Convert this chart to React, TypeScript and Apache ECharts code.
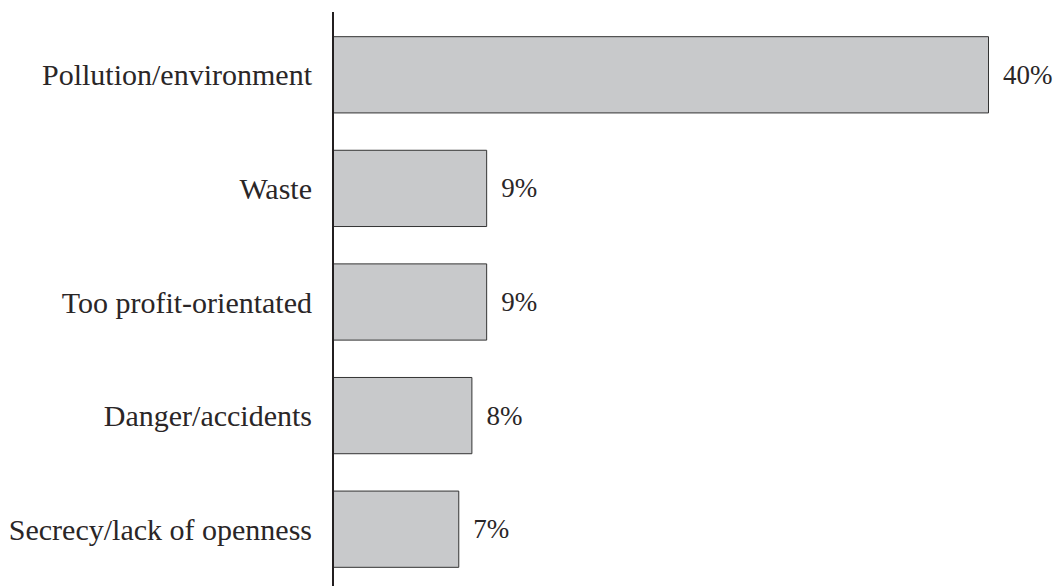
import React, { useEffect, useRef } from "react";
import * as echarts from "echarts";

const categories = [
  "Pollution/environment",
  "Waste",
  "Too profit-orientated",
  "Danger/accidents",
  "Secrecy/lack of openness",
];
const values = [40, 9.4, 9.4, 8.5, 7.7];
const valueLabels = ["40%", "9%", "9%", "8%", "7%"];

export default function App() {
  const ref = useRef<HTMLDivElement>(null);
  useEffect(() => {
    if (!ref.current) return;
    const chart = echarts.init(ref.current, undefined, { renderer: "svg" });
    chart.setOption({
      animation: false,
      backgroundColor: "#ffffff",
      grid: { left: 333, right: 68, top: 18, bottom: 0, containLabel: false },
      xAxis: {
        type: "value",
        min: 0,
        max: 40,
        show: false,
      },
      yAxis: {
        type: "category",
        inverse: true,
        data: categories,
        axisLine: { show: false },
        axisTick: { show: false },
        splitLine: { show: false },
        axisLabel: {
          margin: 21,
          fontFamily: "Liberation Serif",
          fontSize: 30,
          color: "#2a2627",
        },
      },
      series: [
        {
          type: "bar",
          data: values,
          barCategoryGap: "32%",
          itemStyle: {
            color: "#c8c9cb",
            borderColor: "#333333",
            borderWidth: 1,
          },
          label: {
            show: true,
            position: "right",
            distance: 14,
            fontFamily: "Liberation Serif",
            fontSize: 27,
            color: "#2a2627",
            formatter: (p: any) => valueLabels[p.dataIndex],
          },
        },
      ],
      graphic: [
        {
          type: "line",
          shape: { x1: 333, y1: 12, x2: 333, y2: 586 },
          style: { stroke: "#231f20", lineWidth: 2 },
          z: 100,
        },
      ],
    });
    return () => chart.dispose();
  }, []);
  return (
    <div
      ref={ref}
      style={{ position: "absolute", left: 0, top: 0, width: 1057, height: 586 }}
    />
  );
}
